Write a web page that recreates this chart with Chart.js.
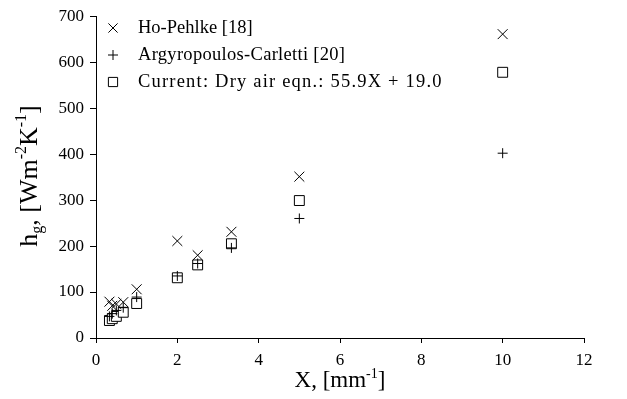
<!DOCTYPE html>
<html>
<head>
<meta charset="utf-8">
<script src="https://cdn.jsdelivr.net/npm/chart.js@4.4.0/dist/chart.umd.min.js"></script>
<style>
  html, body { margin: 0; padding: 0; background: #fff; }
  #wrap { width: 627px; height: 399px; position: relative; }
</style>
</head>
<body>
<div id="wrap"><canvas id="grafico"></canvas></div>
<script>
// Dados
const xValores = [0.33, 0.4, 0.5, 0.67, 1, 2, 2.5, 3.33, 5, 10];
const hoPehlke = [79, 70, 74, 78, 106, 211, 180, 231, 351, 661];
const argyropoulos = [47, 53, 60, 66, 89, 135, 162, 196, 260, 402];
const atual = [38, 42, 47, 56, 75, 131, 159, 205, 299, 578];

const xTicks = [0, 2, 4, 6, 8, 10, 12];
const yTicks = [0, 100, 200, 300, 400, 500, 600, 700];

const nomes = ['Ho-Pehlke [18]', 'Argyropoulos-Carletti [20]', 'Current: Dry air eqn.: 55.9X + 19.0'];

const FONTE = '"Liberation Serif", "Times New Roman", serif';

function pontos(ys) {
    return xValores.map(function(x, i) { return { x: x, y: ys[i] }; });
}

// Desenha texto com sub/sobrescritos, centrado em (cx, cy)
function textoRico(ctx, partes, cx, cy, tam) {
    let largura = 0;
    partes.forEach(function(p) {
        ctx.font = ((p.sub || p.sup) ? Math.round(tam * 0.62) : tam) + 'px ' + FONTE;
        p.w = ctx.measureText(p.t).width;
        largura += p.w;
    });
    let x = cx - largura / 2;
    ctx.textBaseline = 'middle';
    ctx.textAlign = 'left';
    partes.forEach(function(p) {
        ctx.font = ((p.sub || p.sup) ? Math.round(tam * 0.62) : tam) + 'px ' + FONTE;
        let dy = 0;
        if (p.sub) dy = tam * 0.3;
        if (p.sup) dy = -tam * 0.3;
        ctx.fillText(p.t, x, cy + dy);
        x += p.w;
    });
}

const plugTitulos = {
    id: 'titulos',
    afterDraw: function(chart) {
        const ctx = chart.ctx;
        ctx.save();
        ctx.fillStyle = '#000';
        // título do eixo x
        textoRico(ctx, [
            { t: 'X, [mm' }, { t: '-1', sup: true }, { t: ']' }
        ], 340, 381, 23);
        // título do eixo y
        ctx.translate(30, 176);
        ctx.rotate(-Math.PI / 2);
        textoRico(ctx, [
            { t: 'h' }, { t: 'g', sub: true }, { t: ', [Wm' }, { t: '-2', sup: true },
            { t: 'K' }, { t: '-1', sup: true }, { t: ']' }
        ], 0, 0, 26);
        ctx.restore();
    }
};

// espaçamento extra por entrada da legenda
const espacoLetras = ['0px', '0.3px', '1.2px'];

const plugLegenda = {
    id: 'legendaInterna',
    afterDraw: function(chart) {
        const ctx = chart.ctx;
        ctx.save();
        ctx.lineWidth = 1;
        chart.data.datasets.forEach(function(ds, i) {
            const y = 28 + i * 27;
            const x = 113;
            ctx.strokeStyle = '#000';
            ctx.fillStyle = '#fff';
            Chart.helpers.drawPoint(ctx, {
                pointStyle: ds.pointStyle,
                radius: ds.pointStyle === 'cross' ? 5 : 6.5,
                borderWidth: 1
            }, x, y);
            ctx.fillStyle = '#000';
            ctx.font = '18.5px ' + FONTE;
            ctx.letterSpacing = espacoLetras[i];
            ctx.textBaseline = 'middle';
            ctx.textAlign = 'left';
            ctx.fillText(ds.label, 138, y);
        });
        ctx.restore();
    }
};

function criarGrafico() {
    const ctx = document.getElementById('grafico').getContext('2d');
    new Chart(ctx, {
        type: 'scatter',
        data: {
            datasets: [{
                label: nomes[0],
                data: pontos(hoPehlke),
                pointStyle: 'crossRot',
                pointRadius: 7,
                borderColor: '#000',
                backgroundColor: 'rgba(0,0,0,0)',
                pointBorderWidth: 1
            }, {
                label: nomes[1],
                data: pontos(argyropoulos),
                pointStyle: 'cross',
                pointRadius: 5,
                borderColor: '#000',
                backgroundColor: 'rgba(0,0,0,0)',
                pointBorderWidth: 1
            }, {
                label: nomes[2],
                data: pontos(atual),
                pointStyle: 'rect',
                pointRadius: 7,
                borderColor: '#000',
                backgroundColor: '#fff',
                pointBorderWidth: 1
            }]
        },
        options: {
            responsive: true,
            maintainAspectRatio: false,
            animation: false,
            layout: { padding: { left: 0, right: 43, top: 16, bottom: 0 } },
            plugins: {
                legend: { display: false },
                tooltip: { enabled: false }
            },
            scales: {
                x: {
                    type: 'linear',
                    min: 0,
                    max: 12,
                    afterBuildTicks: function(axis) {
                        axis.ticks = xTicks.map(function(v) { return { value: v }; });
                    },
                    grid: { display: true, drawOnChartArea: false, drawTicks: true, tickLength: 5, color: '#000' },
                    border: { display: true, color: '#000', width: 1 },
                    ticks: { color: '#000', font: { family: FONTE, size: 17 }, padding: 7, maxRotation: 0 },
                    afterFit: function(axis) { axis.height = 61; }
                },
                y: {
                    type: 'linear',
                    min: 0,
                    max: 700,
                    afterBuildTicks: function(axis) {
                        axis.ticks = yTicks.map(function(v) { return { value: v }; });
                    },
                    grid: { display: true, drawOnChartArea: false, drawTicks: true, tickLength: 6, color: '#000' },
                    border: { display: true, color: '#000', width: 1 },
                    ticks: { color: '#000', font: { family: FONTE, size: 17 }, padding: 6 },
                    afterFit: function(axis) { axis.width = 96; }
                }
            }
        },
        plugins: [plugTitulos, plugLegenda]
    });
}

document.addEventListener('DOMContentLoaded', criarGrafico);
</script>
</body>
</html>
